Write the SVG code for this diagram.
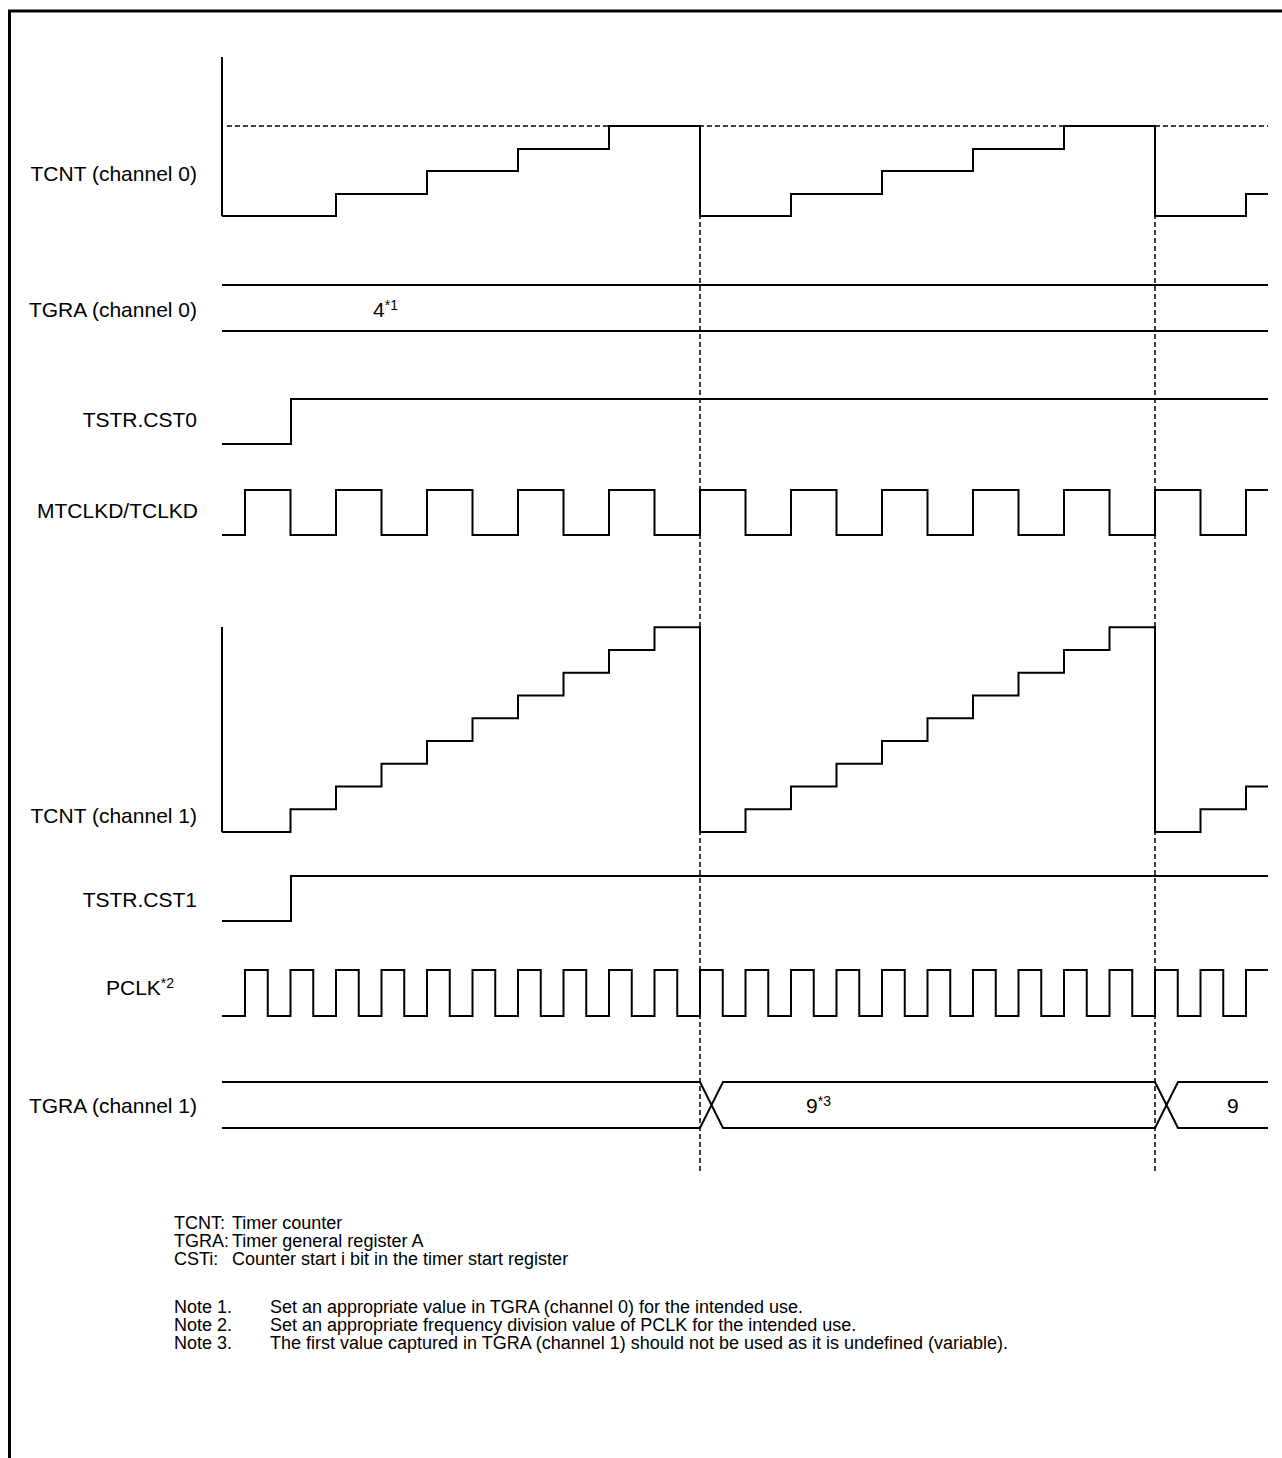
<svg xmlns="http://www.w3.org/2000/svg" width="1282" height="1458" viewBox="0 0 1282 1458">
<style>
text{font-family:"Liberation Sans",Arial,sans-serif;font-size:21px;fill:#000}
.lbl{text-anchor:end}
.note{font-size:18px}
.sup{font-size:14px}
.w{fill:none;stroke:#000;stroke-width:2}
.d{fill:none;stroke:#000;stroke-width:1.5;stroke-dasharray:5 3}
</style>
<rect width="1282" height="1458" fill="#fff"/>
<g id="frame"><path d="M9.5,1458 V11 H1282" fill="none" stroke="#000" stroke-width="3"/></g>
<g id="connectors">
<line class="d" x1="227" y1="126" x2="1268" y2="126"/>
<line class="d" x1="700" y1="126" x2="700" y2="1172"/>
<line class="d" x1="1155" y1="126" x2="1155" y2="1172"/>
</g>
<g id="tcnt0">
<text class="lbl" x="197" y="181">TCNT (channel 0)</text>
<path class="w" d="M222,57 V216"/>
<path class="w" d="M222,216 H336 V194 H427 V171 H518 V149 H609 V126 H700 V216 H791 V194 H882 V171 H973 V149 H1064 V126 H1155 V216 H1246 V194 H1268"/>
</g>
<g id="tgra0">
<text class="lbl" x="197" y="317">TGRA (channel 0)</text>
<path class="w" d="M222,285 H1268 M222,331 H1268"/>
<text x="373" y="317">4<tspan class="sup" dy="-7">*1</tspan></text>
</g>
<g id="cst0">
<text class="lbl" x="197" y="427">TSTR.CST0</text>
<path class="w" d="M222,444 H291 V399 H1268"/>
</g>
<g id="mtclkd">
<text class="lbl" x="198" y="518">MTCLKD/TCLKD</text>
<path class="w" d="M222,535 H245 V490 H290.5 V535 H336 V490 H381.5 V535 H427 V490 H472.5 V535 H518 V490 H563.5 V535 H609 V490 H654.5 V535 H700 V490 H745.5 V535 H791 V490 H836.5 V535 H882 V490 H927.5 V535 H973 V490 H1018.5 V535 H1064 V490 H1109.5 V535 H1155 V490 H1200.5 V535 H1246 V490 H1268"/>
</g>
<g id="tcnt1">
<text class="lbl" x="197" y="823">TCNT (channel 1)</text>
<path class="w" d="M222,627 V832"/>
<path class="w" d="M222,832 H290.5 V809.25 H336 V786.5 H381.5 V763.75 H427 V741 H472.5 V718.25 H518 V695.5 H563.5 V672.75 H609 V650 H654.5 V627.25 H700 V832 H745.5 V809.25 H791 V786.5 H836.5 V763.75 H882 V741 H927.5 V718.25 H973 V695.5 H1018.5 V672.75 H1064 V650 H1109.5 V627.25 H1155 V832 H1200.5 V809.25 H1246 V786.5 H1268"/>
</g>
<g id="cst1">
<text class="lbl" x="197" y="907">TSTR.CST1</text>
<path class="w" d="M222,921 H291 V876 H1268"/>
</g>
<g id="pclk">
<text x="106" y="995">PCLK<tspan class="sup" dy="-7">*2</tspan></text>
<path class="w" d="M222,1016 H245 V970 H267.75 V1016 H290.5 V970 H313.25 V1016 H336 V970 H358.75 V1016 H381.5 V970 H404.25 V1016 H427 V970 H449.75 V1016 H472.5 V970 H495.25 V1016 H518 V970 H540.75 V1016 H563.5 V970 H586.25 V1016 H609 V970 H631.75 V1016 H654.5 V970 H677.25 V1016 H700 V970 H722.75 V1016 H745.5 V970 H768.25 V1016 H791 V970 H813.75 V1016 H836.5 V970 H859.25 V1016 H882 V970 H904.75 V1016 H927.5 V970 H950.25 V1016 H973 V970 H995.75 V1016 H1018.5 V970 H1041.25 V1016 H1064 V970 H1086.75 V1016 H1109.5 V970 H1132.25 V1016 H1155 V970 H1177.75 V1016 H1200.5 V970 H1223.25 V1016 H1246 V970 H1268"/>
</g>
<g id="tgra1">
<text class="lbl" x="197" y="1113">TGRA (channel 1)</text>
<path class="w" d="M222,1082 H700 L723,1128 H1155 L1178,1082 H1268 M222,1128 H700 L723,1082 H1155 L1178,1128 H1268"/>
<text x="806" y="1113">9<tspan class="sup" dy="-7">*3</tspan></text>
<text x="1227" y="1113">9</text>
</g>
<g id="legend">
<text class="note" x="174" y="1229">TCNT:</text><text class="note" x="232" y="1229">Timer counter</text>
<text class="note" x="174" y="1247">TGRA:</text><text class="note" x="232" y="1247">Timer general register A</text>
<text class="note" x="174" y="1265">CSTi:</text><text class="note" x="232" y="1265">Counter start i bit in the timer start register</text>
<text class="note" x="174" y="1313">Note 1.</text><text class="note" x="270" y="1313">Set an appropriate value in TGRA (channel 0) for the intended use.</text>
<text class="note" x="174" y="1331">Note 2.</text><text class="note" x="270" y="1331">Set an appropriate frequency division value of PCLK for the intended use.</text>
<text class="note" x="174" y="1349">Note 3.</text><text class="note" x="270" y="1349">The first value captured in TGRA (channel 1) should not be used as it is undefined (variable).</text>
</g>
</svg>
